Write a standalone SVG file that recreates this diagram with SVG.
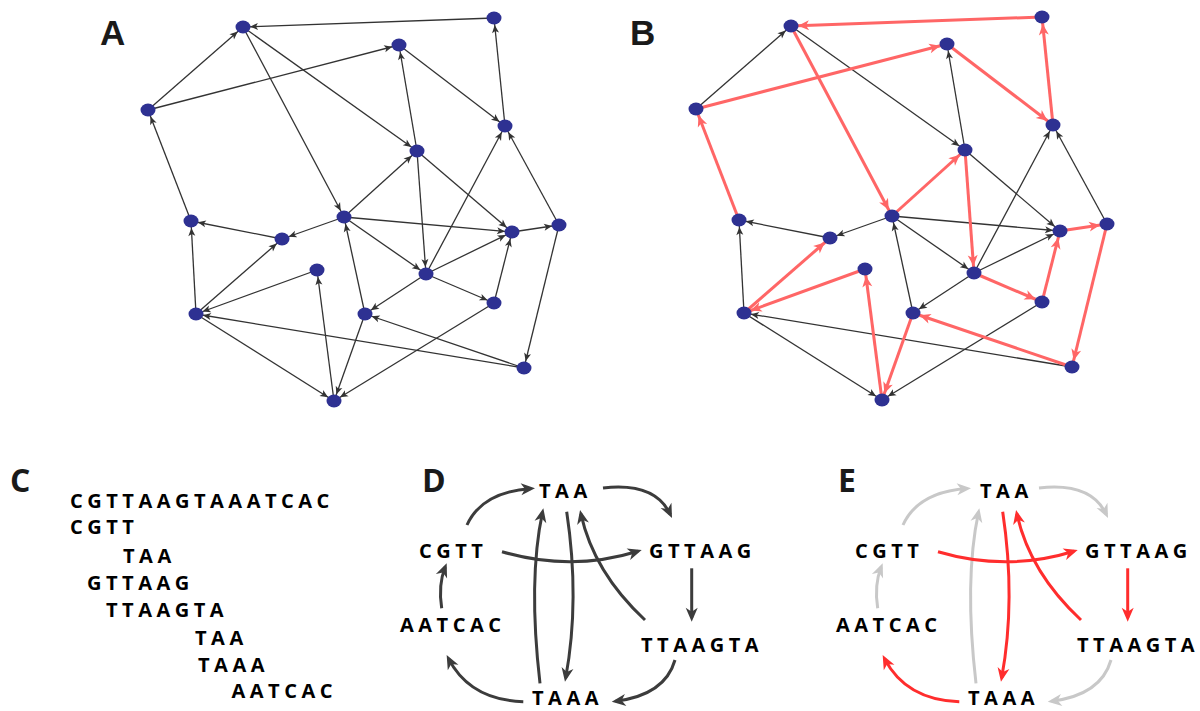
<svg xmlns="http://www.w3.org/2000/svg" width="1200" height="711" viewBox="0 0 1200 711">
<defs>
<style>
.bg{fill:#ffffff}
.nd{fill:#2e3192}
.e{stroke:#333333;stroke-width:1.3;fill:none;marker-end:url(#ak)}
.r{stroke:#ff6666;stroke-width:3;fill:none;marker-end:url(#ar)}
.pl{font-family:"Liberation Sans",Arial,sans-serif;font-weight:bold;font-size:35px;fill:#1a1a1a}
.pl2{font-family:"Open Sans","Liberation Sans",sans-serif;font-weight:bold;font-size:32px;fill:#1a1a1a}
.sq{font-family:"Open Sans","Liberation Sans",sans-serif;font-weight:bold;font-size:20px;letter-spacing:4.5px;fill:#000000}
.d{stroke:#3c3c3c;stroke-width:3;fill:none;marker-end:url(#md)}
.dr{stroke:#ff2d2d;stroke-width:3;fill:none;marker-end:url(#mr)}
.dg{stroke:#c8c8c8;stroke-width:3;fill:none;marker-end:url(#mg)}
</style>
<marker id="ak" markerUnits="userSpaceOnUse" markerWidth="20" markerHeight="12" viewBox="0 -6 20 12" refX="15" refY="0" orient="auto" overflow="visible"><path d="M0,-3.5 L8,0 L0,3.5 L2,0 z" fill="#333333"/></marker>
<marker id="ar" markerUnits="userSpaceOnUse" markerWidth="24" markerHeight="14" viewBox="0 -7 24 14" refX="18" refY="0" orient="auto" overflow="visible"><path d="M0,-5 L11,0 L0,5 L3,0 z" fill="#ff6666"/></marker>
<marker id="md" markerUnits="userSpaceOnUse" markerWidth="16" markerHeight="14" viewBox="0 -7 16 14" refX="10" refY="0" orient="auto" overflow="visible"><path d="M0,-6 L14,0 L0,6 L4,0 z" fill="#3c3c3c"/></marker>
<marker id="mr" markerUnits="userSpaceOnUse" markerWidth="16" markerHeight="14" viewBox="0 -7 16 14" refX="10" refY="0" orient="auto" overflow="visible"><path d="M0,-6 L14,0 L0,6 L4,0 z" fill="#ff2d2d"/></marker>
<marker id="mg" markerUnits="userSpaceOnUse" markerWidth="16" markerHeight="14" viewBox="0 -7 16 14" refX="10" refY="0" orient="auto" overflow="visible"><path d="M0,-6 L14,0 L0,6 L4,0 z" fill="#c8c8c8"/></marker>
</defs>
<rect class="bg" x="0" y="0" width="1200" height="711"/>

<!-- Panel A -->
<g id="panelA">
<text class="pl" x="100" y="45">A</text>
<g id="A-connectors">
<line class="e" x1="494" y1="18" x2="243" y2="27"/>
<line class="e" x1="148" y1="110" x2="243" y2="27"/>
<line class="e" x1="148" y1="110" x2="399" y2="45"/>
<line class="e" x1="243" y1="27" x2="344" y2="217"/>
<line class="e" x1="243" y1="27" x2="417" y2="151"/>
<line class="e" x1="399" y1="45" x2="505" y2="126"/>
<line class="e" x1="505" y1="126" x2="494" y2="18"/>
<line class="e" x1="417" y1="151" x2="399" y2="45"/>
<line class="e" x1="417" y1="151" x2="426" y2="274"/>
<line class="e" x1="417" y1="151" x2="512" y2="232"/>
<line class="e" x1="344" y1="217" x2="417" y2="151"/>
<line class="e" x1="344" y1="217" x2="282" y2="239"/>
<line class="e" x1="344" y1="217" x2="512" y2="232"/>
<line class="e" x1="344" y1="217" x2="426" y2="274"/>
<line class="e" x1="191" y1="221" x2="148" y2="110"/>
<line class="e" x1="282" y1="239" x2="191" y2="221"/>
<line class="e" x1="426" y1="274" x2="505" y2="126"/>
<line class="e" x1="426" y1="274" x2="512" y2="232"/>
<line class="e" x1="426" y1="274" x2="494" y2="303"/>
<line class="e" x1="426" y1="274" x2="365" y2="314"/>
<line class="e" x1="512" y1="232" x2="559" y2="225"/>
<line class="e" x1="559" y1="225" x2="505" y2="126"/>
<line class="e" x1="559" y1="225" x2="524" y2="368"/>
<line class="e" x1="494" y1="303" x2="512" y2="232"/>
<line class="e" x1="494" y1="303" x2="334" y2="401"/>
<line class="e" x1="196" y1="314" x2="191" y2="221"/>
<line class="e" x1="196" y1="314" x2="282" y2="239"/>
<line class="e" x1="317" y1="270" x2="196" y2="314"/>
<line class="e" x1="196" y1="314" x2="334" y2="401"/>
<line class="e" x1="334" y1="401" x2="317" y2="270"/>
<line class="e" x1="365" y1="314" x2="344" y2="217"/>
<line class="e" x1="365" y1="314" x2="334" y2="401"/>
<line class="e" x1="524" y1="368" x2="365" y2="314"/>
<line class="e" x1="524" y1="368" x2="196" y2="314"/>
</g>
<g id="A-n1"><ellipse class="nd" cx="243" cy="27" rx="7.5" ry="6.5"/></g>
<g id="A-n2"><ellipse class="nd" cx="494" cy="18" rx="7.5" ry="6.5"/></g>
<g id="A-n3"><ellipse class="nd" cx="399" cy="45" rx="7.5" ry="6.5"/></g>
<g id="A-n4"><ellipse class="nd" cx="148" cy="110" rx="7.5" ry="6.5"/></g>
<g id="A-n5"><ellipse class="nd" cx="505" cy="126" rx="7.5" ry="6.5"/></g>
<g id="A-n6"><ellipse class="nd" cx="417" cy="151" rx="7.5" ry="6.5"/></g>
<g id="A-n7"><ellipse class="nd" cx="344" cy="217" rx="7.5" ry="6.5"/></g>
<g id="A-n8"><ellipse class="nd" cx="191" cy="221" rx="7.5" ry="6.5"/></g>
<g id="A-n9"><ellipse class="nd" cx="282" cy="239" rx="7.5" ry="6.5"/></g>
<g id="A-n10"><ellipse class="nd" cx="512" cy="232" rx="7.5" ry="6.5"/></g>
<g id="A-n11"><ellipse class="nd" cx="559" cy="225" rx="7.5" ry="6.5"/></g>
<g id="A-n12"><ellipse class="nd" cx="426" cy="274" rx="7.5" ry="6.5"/></g>
<g id="A-n13"><ellipse class="nd" cx="317" cy="270" rx="7.5" ry="6.5"/></g>
<g id="A-n14"><ellipse class="nd" cx="196" cy="314" rx="7.5" ry="6.5"/></g>
<g id="A-n15"><ellipse class="nd" cx="365" cy="314" rx="7.5" ry="6.5"/></g>
<g id="A-n16"><ellipse class="nd" cx="494" cy="303" rx="7.5" ry="6.5"/></g>
<g id="A-n17"><ellipse class="nd" cx="524" cy="368" rx="7.5" ry="6.5"/></g>
<g id="A-n18"><ellipse class="nd" cx="334" cy="401" rx="7.5" ry="6.5"/></g>
</g>

<!-- Panel B -->
<g id="panelB">
<text class="pl" x="630" y="45">B</text>
<g transform="translate(548,-1)">
<g id="B-connectors">
<line class="e" x1="148" y1="110" x2="243" y2="27"/>
<line class="e" x1="243" y1="27" x2="417" y2="151"/>
<line class="e" x1="417" y1="151" x2="399" y2="45"/>
<line class="e" x1="417" y1="151" x2="512" y2="232"/>
<line class="e" x1="344" y1="217" x2="282" y2="239"/>
<line class="e" x1="344" y1="217" x2="512" y2="232"/>
<line class="e" x1="344" y1="217" x2="426" y2="274"/>
<line class="e" x1="282" y1="239" x2="191" y2="221"/>
<line class="e" x1="426" y1="274" x2="505" y2="126"/>
<line class="e" x1="426" y1="274" x2="512" y2="232"/>
<line class="e" x1="426" y1="274" x2="365" y2="314"/>
<line class="e" x1="559" y1="225" x2="505" y2="126"/>
<line class="e" x1="494" y1="303" x2="334" y2="401"/>
<line class="e" x1="196" y1="314" x2="191" y2="221"/>
<line class="e" x1="196" y1="314" x2="334" y2="401"/>
<line class="e" x1="365" y1="314" x2="344" y2="217"/>
<line class="e" x1="524" y1="368" x2="196" y2="314"/>
<line class="r" x1="494" y1="18" x2="243" y2="27"/>
<line class="r" x1="148" y1="110" x2="399" y2="45"/>
<line class="r" x1="243" y1="27" x2="344" y2="217"/>
<line class="r" x1="399" y1="45" x2="505" y2="126"/>
<line class="r" x1="505" y1="126" x2="494" y2="18"/>
<line class="r" x1="344" y1="217" x2="417" y2="151"/>
<line class="r" x1="417" y1="151" x2="426" y2="274"/>
<line class="r" x1="191" y1="221" x2="148" y2="110"/>
<line class="r" x1="196" y1="314" x2="282" y2="239"/>
<line class="r" x1="317" y1="270" x2="196" y2="314"/>
<line class="r" x1="334" y1="401" x2="317" y2="270"/>
<line class="r" x1="365" y1="314" x2="334" y2="401"/>
<line class="r" x1="524" y1="368" x2="365" y2="314"/>
<line class="r" x1="426" y1="274" x2="494" y2="303"/>
<line class="r" x1="494" y1="303" x2="512" y2="232"/>
<line class="r" x1="512" y1="232" x2="559" y2="225"/>
<line class="r" x1="559" y1="225" x2="524" y2="368"/>
</g>
<g id="B-n1"><ellipse class="nd" cx="243" cy="27" rx="7.5" ry="6.5"/></g>
<g id="B-n2"><ellipse class="nd" cx="494" cy="18" rx="7.5" ry="6.5"/></g>
<g id="B-n3"><ellipse class="nd" cx="399" cy="45" rx="7.5" ry="6.5"/></g>
<g id="B-n4"><ellipse class="nd" cx="148" cy="110" rx="7.5" ry="6.5"/></g>
<g id="B-n5"><ellipse class="nd" cx="505" cy="126" rx="7.5" ry="6.5"/></g>
<g id="B-n6"><ellipse class="nd" cx="417" cy="151" rx="7.5" ry="6.5"/></g>
<g id="B-n7"><ellipse class="nd" cx="344" cy="217" rx="7.5" ry="6.5"/></g>
<g id="B-n8"><ellipse class="nd" cx="191" cy="221" rx="7.5" ry="6.5"/></g>
<g id="B-n9"><ellipse class="nd" cx="282" cy="239" rx="7.5" ry="6.5"/></g>
<g id="B-n10"><ellipse class="nd" cx="512" cy="232" rx="7.5" ry="6.5"/></g>
<g id="B-n11"><ellipse class="nd" cx="559" cy="225" rx="7.5" ry="6.5"/></g>
<g id="B-n12"><ellipse class="nd" cx="426" cy="274" rx="7.5" ry="6.5"/></g>
<g id="B-n13"><ellipse class="nd" cx="317" cy="270" rx="7.5" ry="6.5"/></g>
<g id="B-n14"><ellipse class="nd" cx="196" cy="314" rx="7.5" ry="6.5"/></g>
<g id="B-n15"><ellipse class="nd" cx="365" cy="314" rx="7.5" ry="6.5"/></g>
<g id="B-n16"><ellipse class="nd" cx="494" cy="303" rx="7.5" ry="6.5"/></g>
<g id="B-n17"><ellipse class="nd" cx="524" cy="368" rx="7.5" ry="6.5"/></g>
<g id="B-n18"><ellipse class="nd" cx="334" cy="401" rx="7.5" ry="6.5"/></g>
</g>
</g>

<!-- Panel C -->
<g id="panelC">
<text class="pl2" x="10" y="492">C</text>
<text class="sq" x="70" y="508">CGTTAAGTAAATCAC</text>
<text class="sq" x="70" y="534">CGTT</text>
<text class="sq" x="123" y="562.5">TAA</text>
<text class="sq" x="87" y="590">GTTAAG</text>
<text class="sq" x="106" y="616.5">TTAAGTA</text>
<text class="sq" x="195" y="645">TAA</text>
<text class="sq" x="198" y="671.5">TAAA</text>
<text class="sq" x="231.5" y="698">AATCAC</text>
</g>

<!-- Panel D -->
<g id="panelD">
<text class="pl2" x="422" y="492">D</text>
<g id="D-connectors">
<path class="d" d="M467,525 Q482,492 531,488.5"/>
<path class="d" d="M603,488 Q655,482 670.3,514.4"/>
<path class="d" d="M502,551.7 Q571,572 637.9,551.2"/>
<path class="d" d="M691.7,568.3 L691.7,617.7"/>
<path class="d" d="M645,620 Q593.7,572.3 580.9,513.9"/>
<path class="d" d="M675,660 Q665,695 615.7,701.2"/>
<path class="d" d="M523.3,701.7 Q470,700 448.5,658.6"/>
<path class="d" d="M441.7,608.3 Q438,585 445.2,567"/>
<path class="d" d="M540,683.3 Q528,580 542.5,512.2"/>
<path class="d" d="M566.7,511.7 Q580,600 565.7,677.8"/>
</g>
<g id="D-TAA"><text class="sq" x="539" y="498">TAA</text></g>
<g id="D-CGTT"><text class="sq" x="419" y="557.5">CGTT</text></g>
<g id="D-GTTAAG"><text class="sq" x="649" y="557.5">GTTAAG</text></g>
<g id="D-AATCAC"><text class="sq" x="400" y="632">AATCAC</text></g>
<g id="D-TTAAGTA"><text class="sq" x="641" y="651.5">TTAAGTA</text></g>
<g id="D-TAAA"><text class="sq" x="532" y="705">TAAA</text></g>
</g>

<!-- Panel E -->
<g id="panelE">
<text class="pl2" x="838" y="492">E</text>
<g transform="translate(436,0)">
<g id="E-connectors">
<path class="dg" d="M467,525 Q482,492 531,488.5"/>
<path class="dg" d="M603,488 Q655,482 670.3,514.4"/>
<path class="dg" d="M675,660 Q665,695 615.7,701.2"/>
<path class="dg" d="M441.7,608.3 Q438,585 445.2,567"/>
<path class="dg" d="M540,683.3 Q528,580 542.5,512.2"/>
<path class="dr" d="M502,551.7 Q571,572 637.9,551.2"/>
<path class="dr" d="M691.7,568.3 L691.7,617.7"/>
<path class="dr" d="M645,620 Q593.7,572.3 580.9,513.9"/>
<path class="dr" d="M566.7,511.7 Q580,600 565.7,677.8"/>
<path class="dr" d="M523.3,701.7 Q470,700 448.5,658.6"/>
</g>
<g id="E-TAA"><text class="sq" x="544" y="498">TAA</text></g>
<g id="E-CGTT"><text class="sq" x="419" y="557.5">CGTT</text></g>
<g id="E-GTTAAG"><text class="sq" x="649" y="557.5">GTTAAG</text></g>
<g id="E-AATCAC"><text class="sq" x="400" y="632">AATCAC</text></g>
<g id="E-TTAAGTA"><text class="sq" x="641" y="651.5">TTAAGTA</text></g>
<g id="E-TAAA"><text class="sq" x="532" y="705">TAAA</text></g>
</g>
</g>
</svg>
